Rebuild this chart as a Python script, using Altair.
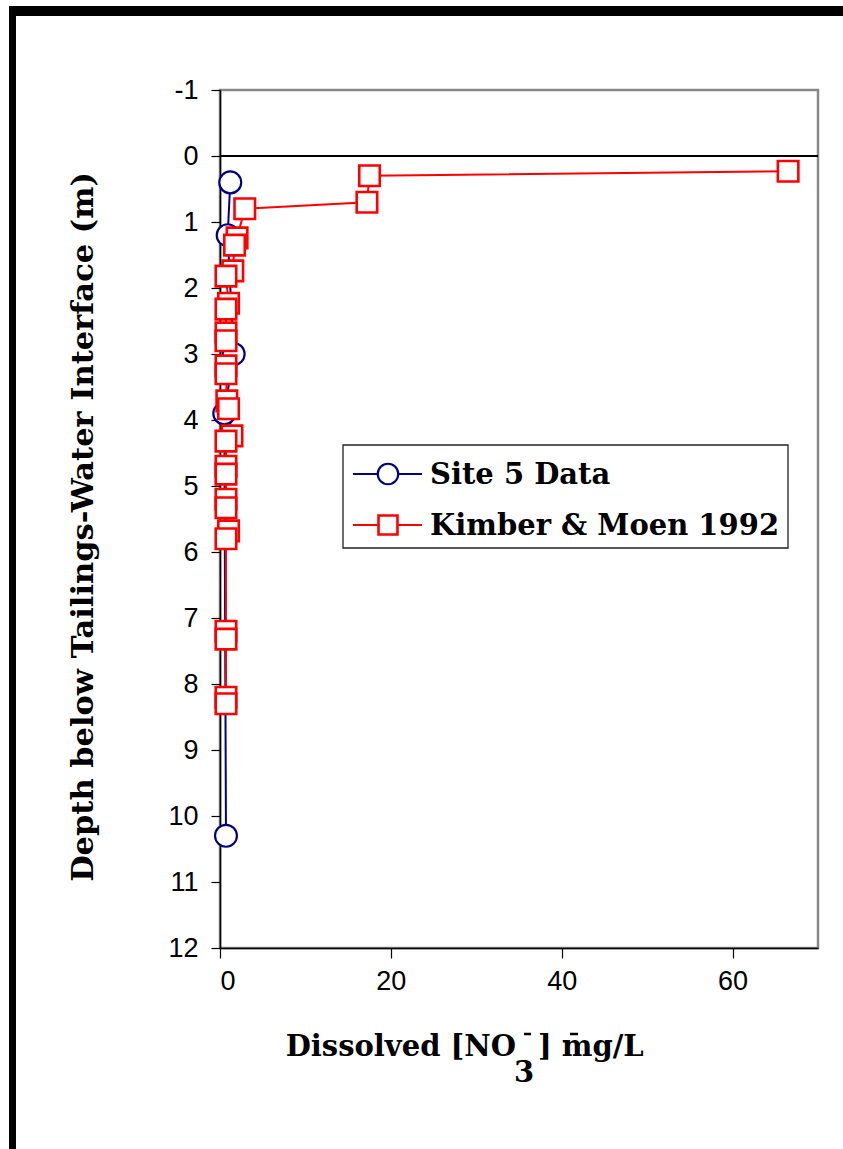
import altair as alt
import pandas as pd

# Site 5 profile: dissolved nitrate (mg/L) vs depth below interface (m)
site5_no3 = [1.2, 0.9, 1.6, 0.5, 0.7]
site5_depth = [0.4, 1.2, 3.0, 3.9, 10.3]

# Kimber & Moen 1992 profile
km_no3 = [66.5, 17.5, 17.2, 2.9, 2.0, 1.7, 1.5, 0.7, 1.0, 0.7, 0.7, 0.7, 0.7, 0.7,
          0.8, 1.0, 1.4, 0.7, 0.7, 0.7, 0.7, 0.7, 1.0, 0.7, 0.7, 0.7, 0.7, 0.7]
km_depth = [0.23, 0.30, 0.70, 0.80, 1.24, 1.35, 1.74, 1.82, 2.23, 2.32, 2.68, 2.80, 3.18, 3.30,
            3.71, 3.83, 4.24, 4.32, 4.70, 4.82, 5.20, 5.33, 5.68, 5.80, 7.20, 7.32, 8.20, 8.30]

x_ticks = [0, 20, 40, 60]
y_ticks = list(range(-1, 13))

series_names = ["Site 5 Data", "Kimber & Moen 1992"]
NAVY = "#000080"
RED = "#FF0000"

W, H = 598, 858
SERIF = "DejaVu Serif"
SANS = "Liberation Sans"

site5 = pd.DataFrame({"no3": site5_no3, "depth": site5_depth, "series": series_names[0]})
km = pd.DataFrame({"no3": km_no3, "depth": km_depth, "series": series_names[1]})

x_scale = alt.Scale(domain=[0, 70], nice=False, zero=False)
y_scale = alt.Scale(domain=[-1, 12], reverse=True, nice=False, zero=False)

x_axis = alt.Axis(values=x_ticks, title=None, grid=False, labelFont=SANS, labelFontSize=27,
                  labelColor="black", tickSize=10, tickColor="black", domainColor="black",
                  domainWidth=1.5, tickWidth=1.2, labelPadding=10,
                  labelExpr="'' + datum.value")
y_axis = alt.Axis(values=y_ticks, title=None, grid=False, labelFont=SANS, labelFontSize=27,
                  labelColor="black", tickSize=9, tickColor="black", domainColor="black",
                  domainWidth=1.5, tickWidth=1.2, labelPadding=13,
                  labelExpr="'' + datum.value")

one = pd.DataFrame({"k": [0]})


def series_layers(df, color, shape, size, sw):
    line = alt.Chart(df).mark_line(color=color, strokeWidth=2).encode(
        x=alt.X("no3:Q", scale=x_scale, axis=x_axis),
        y=alt.Y("depth:Q", scale=y_scale, axis=y_axis),
        order=alt.Order("depth:Q"),
    )
    pts = alt.Chart(df).mark_point(shape=shape, size=size, filled=True, fill="white",
                                   stroke=color, strokeWidth=sw, opacity=1).encode(
        x=alt.X("no3:Q", scale=x_scale),
        y=alt.Y("depth:Q", scale=y_scale),
    )
    return line, pts


s5_line, s5_pts = series_layers(site5, NAVY, "circle", 480, 2.2)
km_line, km_pts = series_layers(km, RED, "square", 420, 2.6)

# horizontal reference line at the tailings-water interface
zero_rule = alt.Chart(pd.DataFrame({"d": [0]})).mark_rule(color="black", strokeWidth=2).encode(
    y=alt.Y("d:Q", scale=y_scale), x=alt.value(0), x2=alt.value(W)
)

# outer page frame (top and left edges)
frame_top = alt.Chart(one).mark_rect(color="black").encode(
    x=alt.value(-211), x2=alt.value(W + 30), y=alt.value(-84), y2=alt.value(-74)
)
frame_left = alt.Chart(one).mark_rect(color="black").encode(
    x=alt.value(-211), x2=alt.value(-204), y=alt.value(-84), y2=alt.value(H + 210)
)

# legend box
lx0, lx1, ly0, ly1 = 123, 568, 355, 458
leg_box = alt.Chart(one).mark_rect(fill="white", stroke="#222222", strokeWidth=1.3).encode(
    x=alt.value(lx0), x2=alt.value(lx1), y=alt.value(ly0), y2=alt.value(ly1)
)
leg_layers = []
for i, (name, color, shape, size, sw) in enumerate(
        [(series_names[0], NAVY, "circle", 420, 2.2), (series_names[1], RED, "square", 360, 2.6)]):
    yy = 384 + i * 51
    leg_layers.append(alt.Chart(one).mark_rule(color=color, strokeWidth=2).encode(
        x=alt.value(133), x2=alt.value(202), y=alt.value(yy)))
    leg_layers.append(alt.Chart(one).mark_point(shape=shape, size=size, filled=True, fill="white",
                                                stroke=color, strokeWidth=sw, opacity=1).encode(
        x=alt.value(168), y=alt.value(yy)))
    leg_layers.append(alt.Chart(one).mark_text(font=SERIF, fontSize=29, fontWeight="bold",
                                               align="left", baseline="middle", color="black").encode(
        x=alt.value(210), y=alt.value(yy + 1), text=alt.value(name)))

# axis titles
ttl = dict(font=SERIF, fontWeight="bold", color="black")
y_title = alt.Chart(one).mark_text(fontSize=30.5, angle=270, align="center", baseline="middle", **ttl).encode(
    x=alt.value(-136), y=alt.value(437), text=alt.value("Depth below Tailings-Water Interface (m)"))
x_title_main = alt.Chart(one).mark_text(fontSize=29, align="right", baseline="alphabetic", **ttl).encode(
    x=alt.value(296), y=alt.value(966), text=alt.value("Dissolved [NO"))
x_title_sub = alt.Chart(one).mark_text(fontSize=29, align="center", baseline="alphabetic", **ttl).encode(
    x=alt.value(304), y=alt.value(992), text=alt.value("3"))
x_title_rest = alt.Chart(one).mark_text(fontSize=29, align="left", baseline="alphabetic", **ttl).encode(
    x=alt.value(318), y=alt.value(966), text=alt.value("] mg/L"))
# superscript minus after NO, and the stray bar over the "m"
sup_minus = alt.Chart(one).mark_rule(color="black", strokeWidth=2.5).encode(
    x=alt.value(304), x2=alt.value(311), y=alt.value(944))
m_bar = alt.Chart(one).mark_rule(color="black", strokeWidth=2.5).encode(
    x=alt.value(350), x2=alt.value(358), y=alt.value(944))

chart = alt.layer(
    frame_top, frame_left, zero_rule,
    s5_line, km_line, s5_pts, km_pts,
    leg_box, *leg_layers,
    y_title, x_title_main, x_title_sub, x_title_rest, sup_minus, m_bar,
).properties(
    width=W, height=H,
    autosize=alt.AutoSizeParams(type="none"),
    padding={"left": 220, "top": 90, "right": 25, "bottom": 201},
    background="white",
).configure_view(stroke="#888888", strokeWidth=2.5)

chart.save("out.html", embed_options={"renderer": "svg", "actions": False})
